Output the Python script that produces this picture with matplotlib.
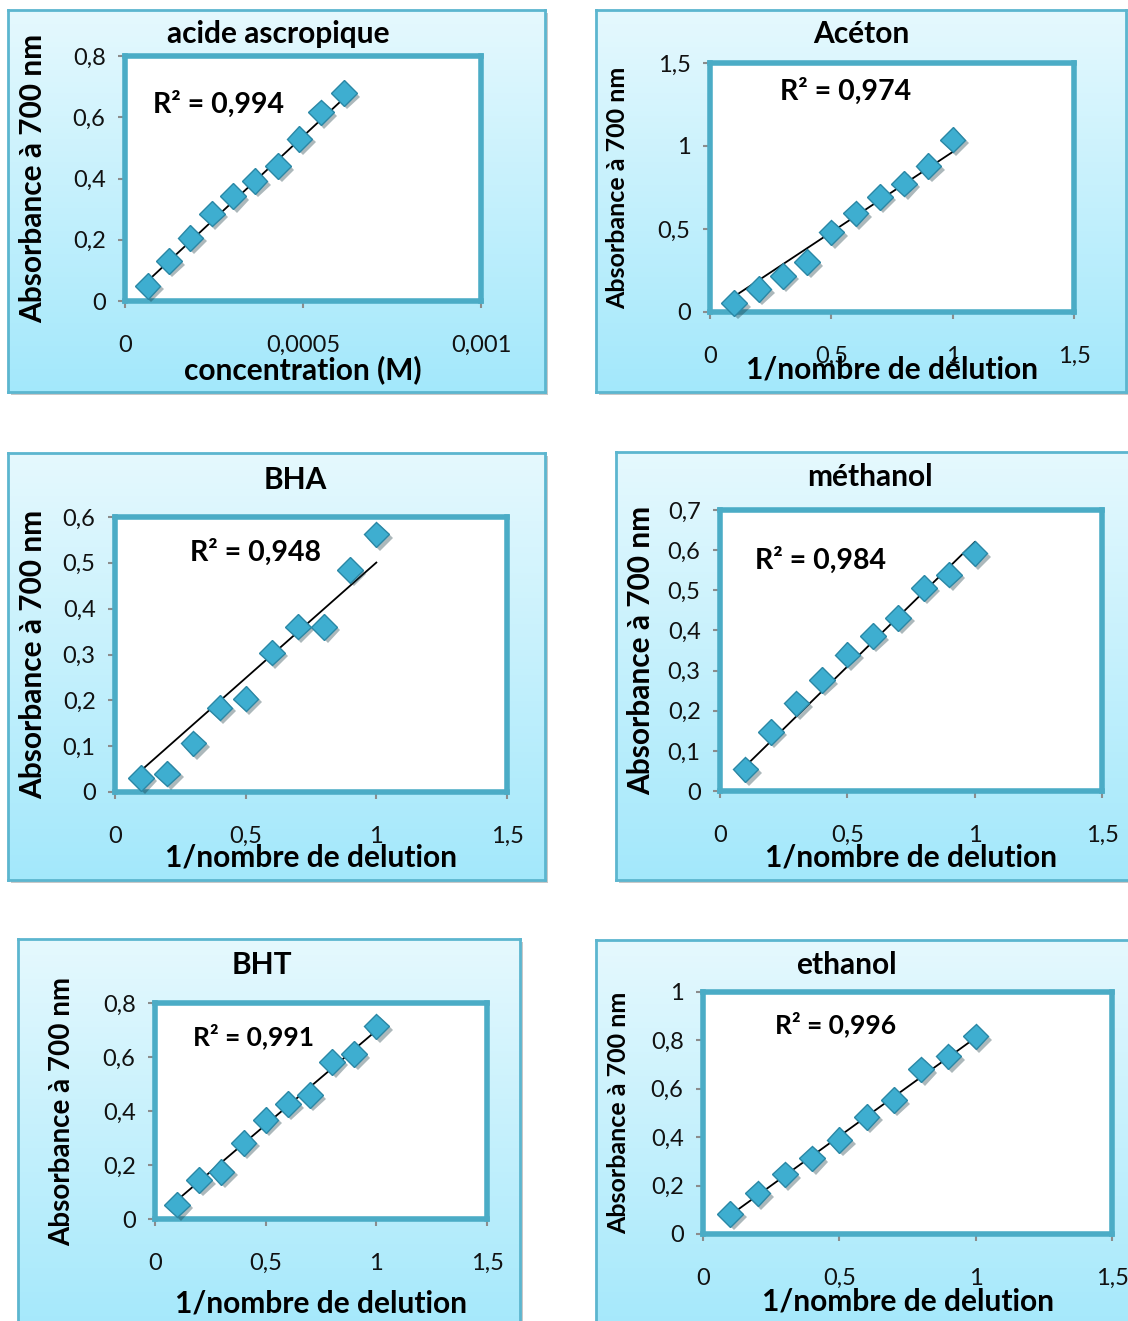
import numpy as np
import matplotlib
matplotlib.use('Agg')
import matplotlib.pyplot as plt
import matplotlib.patheffects as pe
from matplotlib.patches import Rectangle

W, H = 1128, 1321
plt.rcParams['font.family'] = ['Lato', 'DejaVu Sans']

# ----- data -----
acide_x = [0.0000633, 0.0001235, 0.0001837, 0.000244, 0.000304,
           0.000364, 0.000430, 0.000490, 0.000550, 0.000615]
acide_y = [0.049, 0.130, 0.206, 0.285, 0.342, 0.391, 0.440, 0.529, 0.616, 0.679]

dil_x = [0.1, 0.2, 0.3, 0.4, 0.5, 0.6, 0.7, 0.8, 0.9, 1.0]
aceton_y = [0.054, 0.138, 0.218, 0.300, 0.480, 0.594, 0.694, 0.774, 0.878, 1.038]
bha_y = [0.031, 0.040, 0.106, 0.184, 0.204, 0.304, 0.361, 0.360, 0.484, 0.562]
methanol_y = [0.054, 0.147, 0.218, 0.276, 0.340, 0.386, 0.431, 0.506, 0.539, 0.592]
bht_y = [0.053, 0.144, 0.175, 0.282, 0.367, 0.425, 0.459, 0.582, 0.611, 0.713]
ethanol_y = [0.083, 0.168, 0.246, 0.312, 0.388, 0.484, 0.553, 0.680, 0.734, 0.817]

# trendlines as drawn in the original (slope, intercept)
trend_slope = [1082, 0.967, 0.504, 0.620, 0.698, 0.815]
trend_icept = [-0.0035, -0.0027, -0.0034, 0.0, 0.0, -0.0035]

titles = ['acide ascropique', 'Acéton', 'BHA', 'méthanol', 'BHT', 'ethanol']
r2_labels = ['R² = 0,994', 'R² = 0,974', 'R² = 0,948', 'R² = 0,984', 'R² = 0,991', 'R² = 0,996']
xlabels = ['concentration (M)', '1/nombre de délution', '1/nombre de delution',
           '1/nombre de delution', '1/nombre de delution', '1/nombre de delution']
ylabel = 'Absorbance à 700 nm'

x_ticks = [[0, 0.0005, 0.001], [0, 0.5, 1, 1.5], [0, 0.5, 1, 1.5],
           [0, 0.5, 1, 1.5], [0, 0.5, 1, 1.5], [0, 0.5, 1, 1.5]]
x_ticklabels = [['0', '0,0005', '0,001'], ['0', '0,5', '1', '1,5'], ['0', '0,5', '1', '1,5'],
                ['0', '0,5', '1', '1,5'], ['0', '0,5', '1', '1,5'], ['0', '0,5', '1', '1,5']]
y_ticks = [[0, 0.2, 0.4, 0.6, 0.8], [0, 0.5, 1, 1.5],
           [0, 0.1, 0.2, 0.3, 0.4, 0.5, 0.6], [0, 0.1, 0.2, 0.3, 0.4, 0.5, 0.6, 0.7],
           [0, 0.2, 0.4, 0.6, 0.8], [0, 0.2, 0.4, 0.6, 0.8, 1]]
y_ticklabels = [['0', '0,2', '0,4', '0,6', '0,8'], ['0', '0,5', '1', '1,5'],
                ['0', '0,1', '0,2', '0,3', '0,4', '0,5', '0,6'],
                ['0', '0,1', '0,2', '0,3', '0,4', '0,5', '0,6', '0,7'],
                ['0', '0,2', '0,4', '0,6', '0,8'], ['0', '0,2', '0,4', '0,6', '0,8', '1']]

series = [(acide_x, acide_y), (dil_x, aceton_y), (dil_x, bha_y),
          (dil_x, methanol_y), (dil_x, bht_y), (dil_x, ethanol_y)]

# ----- layout in pixels (left, top, right, bottom) -----
panels = [(8, 10, 545, 392), (596, 10, 1126, 392), (8, 453, 545, 880),
          (616, 452, 1140, 880), (18, 939, 520, 1340), (596, 940, 1140, 1340)]
axes_px = [(125, 56, 481, 301), (710, 63, 1074, 312), (115, 517, 507, 792),
           (720, 510, 1102, 791), (155, 1003, 487, 1219), (703, 992, 1112, 1234)]
title_pos = [(278, 34), (861, 34), (295, 480), (870, 477), (262, 965), (846, 965)]
r2_pos = [(153, 104), (780, 91), (190, 552), (755, 560), (193, 1036), (775, 1024)]
xlab_y = [370, 370, 857, 857, 1304, 1301]
ylab_x = [33, 618, 33, 641, 62, 619]
ylab_size = [21.5, 18, 21.5, 21.5, 20, 18]
r2_size = [20.5, 20.5, 20.5, 20.5, 19, 19]

TEAL = '#4bacc6'


def fx(px):
    return px / W


def fy(py):
    return 1 - py / H


fig = plt.figure(figsize=(W / 100, H / 100), dpi=100)
fig.patch.set_facecolor('white')

grad = np.linspace(0, 1, 256).reshape(-1, 1)
top_c = np.array([0.90, 0.975, 0.995])
bot_c = np.array([0.64, 0.91, 0.985])
grad_img = top_c[None, None, :] * (1 - grad[:, :, None]) + bot_c[None, None, :] * grad[:, :, None]

for i in range(6):
    l, t, r, b = panels[i]
    # drop shadow
    fig.patches.append(Rectangle((fx(l + 3), fy(b + 3)), (r - l) / W, (b - t) / H,
                                 transform=fig.transFigure, facecolor='#c8c8c8',
                                 edgecolor='none', zorder=0))
    bg = fig.add_axes([fx(l), fy(b), (r - l) / W, (b - t) / H], zorder=1)
    bg.imshow(grad_img, aspect='auto', extent=[0, 1, 0, 1])
    bg.set_xticks([])
    bg.set_yticks([])
    for s in bg.spines.values():
        s.set_color('#5cb6cf')
        s.set_linewidth(2)

    al, at, ar, ab = axes_px[i]
    ax = fig.add_axes([fx(al), fy(ab), (ar - al) / W, (ab - at) / H], zorder=2)
    ax.set_facecolor('white')
    xs, ys = series[i]
    ax.set_xlim(x_ticks[i][0], x_ticks[i][-1])
    ax.set_ylim(y_ticks[i][0], y_ticks[i][-1])
    ax.set_xticks(x_ticks[i])
    ax.set_xticklabels(x_ticklabels[i])
    ax.set_yticks(y_ticks[i])
    ax.set_yticklabels(y_ticklabels[i])
    ax.tick_params(direction='out', length=5, width=1.5, color='#8c8c8c',
                   labelsize=17, labelcolor='#111111')
    ax.tick_params(axis='x', pad=19.5)
    ax.tick_params(axis='y', pad=9)
    for s in ax.spines.values():
        s.set_color(TEAL)
        s.set_linewidth(4)

    # linear trendline
    xl = np.array([min(xs), max(xs)])
    ax.plot(xl, trend_slope[i] * xl + trend_icept[i], color='black', lw=1.3, zorder=3)
    ax.plot(xs, ys, linestyle='none', marker='D', ms=13, mfc='#3eaed0',
            mec='#2a87a5', mew=1.0, zorder=4, clip_on=False,
            path_effects=[pe.SimplePatchShadow(offset=(2.5, -2.5), alpha=0.35), pe.Normal()])

    tx, ty = title_pos[i]
    fig.text(fx(tx), fy(ty), titles[i], ha='center', va='center',
             fontsize=21.5, fontweight='bold', zorder=5)
    rx, ry = r2_pos[i]
    fig.text(fx(rx), fy(ry), r2_labels[i], ha='left', va='center',
             fontsize=r2_size[i], fontweight='bold', zorder=5)
    fig.text(fx((al + ar) / 2), fy(xlab_y[i]), xlabels[i], ha='center', va='center',
             fontsize=21.5, fontweight='bold', zorder=5)
    fig.text(fx(ylab_x[i]), fy((at + ab) / 2), ylabel, ha='center', va='center',
             rotation=90, fontsize=ylab_size[i], fontweight='bold', zorder=5)

fig.savefig('out.png', dpi=100)
